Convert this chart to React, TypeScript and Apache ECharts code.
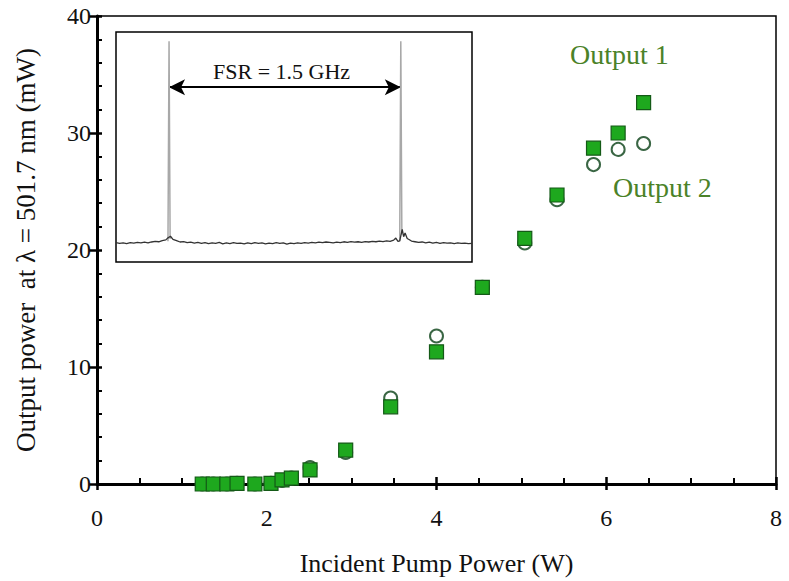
import React, { useEffect, useRef } from "react";
import * as echarts from "echarts";

// Main data: incident pump power (W) vs output power (mW)
const pumpPower = [1.24, 1.37, 1.53, 1.65, 1.86, 2.05, 2.18, 2.29, 2.51, 2.93, 3.46, 4.0, 4.54, 5.04, 5.42, 5.85, 6.14, 6.44];
const output1 = [0, 0, 0, 0.05, 0, 0.05, 0.35, 0.5, 1.2, 2.9, 6.6, 11.3, 16.8, 21.0, 24.7, 28.7, 30.0, 32.6];
const output2 = [0, 0, 0, 0.05, 0, 0.05, 0.3, 0.5, 1.4, 2.7, 7.35, 12.65, 16.8, 20.6, 24.3, 27.3, 28.6, 29.1];

const xTicks = [0, 2, 4, 6, 8];
const yTicks = [0, 10, 20, 30, 40];

// Inset spectrum (arbitrary units, 0-100 frame)
const specX = [0, 1, 2, 3, 4, 5, 6, 7, 8, 9, 10, 11, 12, 13, 14, 14.5, 15.3, 16, 17, 18, 19, 20, 21, 22, 23, 24, 25, 26, 27, 28, 29, 30, 31, 32, 33, 34, 35, 36, 37, 38, 39, 40, 41, 42, 43, 44, 45, 46, 47, 48, 49, 50, 51, 52, 53, 54, 55, 56, 57, 58, 59, 60, 61, 62, 63, 64, 65, 66, 67, 68, 69, 70, 71, 72, 73, 74, 75, 76, 77, 78, 78.6, 79.2, 79.7, 80.4, 80.8, 81.2, 81.8, 82.3, 83, 84, 85, 86, 87, 88, 89, 90, 91, 92, 93, 94, 95, 96, 97, 98, 99, 100];
const specY = [8.4, 8.1, 8.3, 8.0, 8.4, 8.2, 8.5, 8.3, 8.6, 8.3, 8.7, 9.0, 8.8, 9.3, 9.6, 10.4, 11.2, 9.8, 9.3, 8.7, 8.9, 8.4, 8.6, 8.2, 8.5, 8.1, 8.4, 8.0, 8.3, 8.1, 8.5, 7.9, 8.3, 8.0, 8.4, 8.1, 8.2, 7.9, 8.3, 8.0, 8.4, 8.1, 8.3, 7.9, 8.2, 8.0, 8.4, 8.1, 8.3, 7.8, 8.2, 8.0, 8.3, 8.1, 8.4, 8.2, 8.5, 8.3, 8.6, 8.4, 8.7, 8.5, 8.3, 8.6, 8.4, 8.8, 8.5, 8.9, 8.6, 8.8, 8.5, 8.9, 8.7, 9.0, 8.8, 9.1, 8.9, 9.2, 9.0, 9.5, 10.4, 9.0, 9.2, 14.2, 11.0, 12.6, 10.2, 9.8, 9.1, 8.8, 8.5, 8.7, 8.3, 8.6, 8.2, 8.5, 8.1, 8.4, 8.2, 8.3, 8.0, 8.3, 8.1, 8.2, 8.0, 8.1];
const peakX = [14.6, 14.9, 15.2];
const peakY = [9, 96, 10];
const peak2X = [79.7, 80.0, 80.3];
const peak2Y = [9, 96, 12];
const fsrFrom = 14.9;
const fsrTo = 80.0;
const fsrLevel = 76;

const zip = (a: number[], b: number[]) => a.map((v, i) => [v, b[i]]);

const SERIF = "'Liberation Serif', 'Times New Roman', serif";

export default function App() {
  const ref = useRef<HTMLDivElement>(null);
  useEffect(() => {
    if (!ref.current) return;
    const chart = echarts.init(ref.current, null, { renderer: "svg" });
    const labelStyle = { fontFamily: SERIF, fontSize: 24, color: "#111" };
    chart.setOption({
      animation: false,
      backgroundColor: "#fff",
      grid: [
        { left: 97, right: 13, top: 16, bottom: 97, show: true, borderColor: "#000", borderWidth: 1.5 },
        { left: 116, top: 32, width: 356, height: 230, show: true, borderColor: "#000", borderWidth: 1.5, backgroundColor: "#fff", z: 5 },
      ],
      xAxis: [
        {
          gridIndex: 0, type: "value", min: xTicks[0], max: xTicks[xTicks.length - 1], interval: 2,
          name: "Incident Pump Power (W)", nameLocation: "middle", nameGap: 66,
          nameTextStyle: { fontFamily: SERIF, fontSize: 26, color: "#111" },
          axisLine: { show: true, onZero: false, lineStyle: { color: "#000", width: 3 } },
          axisTick: { show: true, inside: false, length: 6, lineStyle: { color: "#000", width: 2.5 } },
          axisLabel: { ...labelStyle, margin: 22 },
          splitLine: { show: false },
        },
        {
          gridIndex: 0, type: "value", position: "bottom", min: xTicks[0], max: xTicks[xTicks.length - 1], interval: 2,
          axisLine: { show: false },
          axisTick: { show: true, inside: true, length: 7, lineStyle: { color: "#000", width: 2.5 } },
          minorTick: { show: true, splitNumber: 4, length: 6, lineStyle: { color: "#000", width: 2 } },
          axisLabel: { show: false },
          splitLine: { show: false },
        },
        { gridIndex: 1, type: "value", min: 0, max: 100, show: false },
      ],
      yAxis: [
        {
          gridIndex: 0, type: "value", min: yTicks[0], max: yTicks[yTicks.length - 1], interval: 10,
          name: "Output power  at \u03bb = 501.7 nm (mW)", nameLocation: "middle", nameGap: 58,
          nameTextStyle: { fontFamily: SERIF, fontSize: 27, color: "#111" },
          axisLine: { show: true, onZero: false, lineStyle: { color: "#000", width: 3 } },
          axisTick: { show: true, inside: false, length: 8, lineStyle: { color: "#000", width: 2.5 } },
          axisLabel: { ...labelStyle, margin: 6 },
          splitLine: { show: false },
        },
        {
          gridIndex: 0, type: "value", position: "left", min: yTicks[0], max: yTicks[yTicks.length - 1], interval: 10,
          axisLine: { show: false },
          axisTick: { show: true, inside: true, length: 5, lineStyle: { color: "#000", width: 2.5 } },
          minorTick: { show: true, splitNumber: 5, length: 5, lineStyle: { color: "#000", width: 2 } },
          axisLabel: { show: false },
          splitLine: { show: false },
        },
        { gridIndex: 1, type: "value", min: 0, max: 100, show: false },
      ],
      series: [
        {
          name: "Output 2", type: "scatter", xAxisIndex: 0, yAxisIndex: 0,
          data: zip(pumpPower, output2), symbol: "circle", symbolSize: 13,
          itemStyle: { color: "rgba(255,255,255,0)", borderColor: "#3a6644", borderWidth: 2, opacity: 1 },
          z: 3,
        },
        {
          name: "Output 1", type: "scatter", xAxisIndex: 0, yAxisIndex: 0,
          data: zip(pumpPower, output1), symbol: "rect", symbolSize: 14,
          itemStyle: { color: "#1ea81e", borderColor: "#145a17", borderWidth: 1.2, opacity: 1 },
          z: 4,
        },
        {
          type: "line", xAxisIndex: 2, yAxisIndex: 2, data: zip(peakX, peakY),
          showSymbol: false, symbol: "none", lineStyle: { color: "#a8a8a8", width: 1.5 }, z: 6,
        },
        {
          type: "line", xAxisIndex: 2, yAxisIndex: 2, data: zip(peak2X, peak2Y),
          showSymbol: false, symbol: "none", lineStyle: { color: "#a8a8a8", width: 1.5 }, z: 6,
        },
        {
          type: "line", xAxisIndex: 2, yAxisIndex: 2, data: zip(specX, specY),
          showSymbol: false, symbol: "none", lineStyle: { color: "#333", width: 1.3 }, z: 7,
          markLine: {
            silent: true, symbol: ["arrow", "arrow"], symbolSize: [12, 16],
            lineStyle: { color: "#000", width: 2, type: "solid" },
            label: { show: false },
            data: [[{ coord: [fsrFrom, fsrLevel] }, { coord: [fsrTo, fsrLevel] }]],
          },
        },
      ],
      graphic: [
        { type: "text", left: 213, top: 60, z: 100, style: { text: "FSR = 1.5 GHz", font: `22px ${SERIF}`, fill: "#111" } },
        { type: "text", left: 570, top: 40, z: 100, style: { text: "Output 1", font: `28px ${SERIF}`, fill: "#4b8228" } },
        { type: "text", left: 613, top: 173, z: 100, style: { text: "Output 2", font: `28px ${SERIF}`, fill: "#4b8228" } },
      ],
    });
    return () => chart.dispose();
  }, []);
  return <div ref={ref} style={{ position: "absolute", left: 0, top: 0, width: 789, height: 581 }} />;
}
